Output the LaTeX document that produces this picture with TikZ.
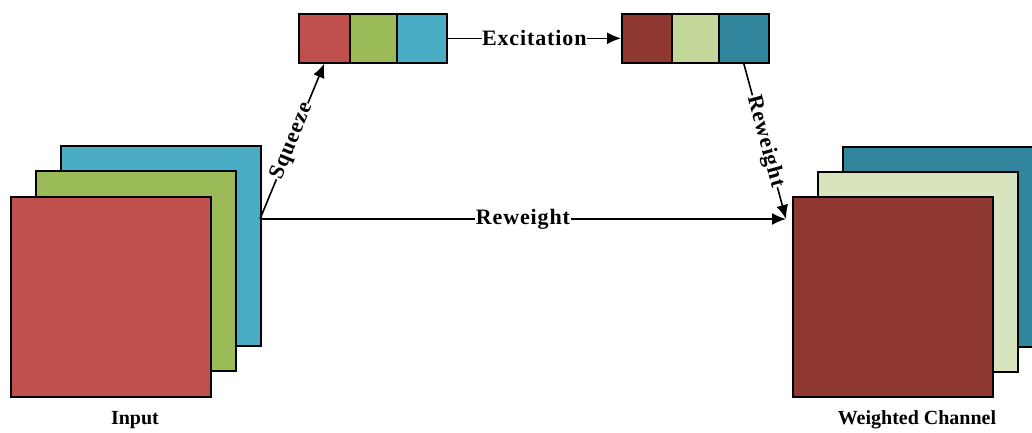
\documentclass[tikz,border=0pt]{standalone}
\usepackage{fontspec}
\setmainfont{Liberation Serif}
\usetikzlibrary{arrows.meta}
\definecolor{cred}{HTML}{C0504D}
\definecolor{cgreen}{HTML}{9BBB59}
\definecolor{cblue}{HTML}{4BACC6}
\definecolor{dred}{HTML}{8F3832}
\definecolor{lgreen}{HTML}{C4D79B}
\definecolor{pgreen}{HTML}{D7E4BD}
\definecolor{dteal}{HTML}{31859C}
\tikzset{
  sq/.style={draw=black, line width=1.6pt, minimum width=200pt, minimum height=200pt, inner sep=0pt, anchor=north west},
  cell/.style={draw=black, line width=1.6pt, minimum height=49pt, inner sep=0pt, anchor=north west},
  conn/.style={line width=1.6pt, -{Latex[length=14pt,width=12pt]}},
  spaced/.style={font=\bfseries\fontsize{22}{24}\selectfont\addfontfeature{LetterSpace=4}, fill=white, inner sep=0.5pt},
  captext/.style={font=\bfseries\fontsize{20}{22}\selectfont}
}
\begin{document}
\begin{tikzpicture}[x=1pt,y=-1pt]
\useasboundingbox (0,0) rectangle (1032,432);
% input stack
\node[sq, fill=cblue] (ib) at (60,145) {};
\node[sq, fill=cgreen] (ig) at (35,170) {};
\node[sq, fill=cred] (ir) at (10,196) {};
% output stack
\node[sq, fill=dteal] (ob) at (842,146) {};
\node[sq, fill=pgreen] (og) at (817,171) {};
\node[sq, fill=dred] (or) at (792,196) {};
% squeezed vector
\node[cell, fill=cred, minimum width=51pt] (c1) at (298,13) {};
\node[cell, fill=cgreen, minimum width=47pt] (c2) at (349,13) {};
\node[cell, fill=cblue, minimum width=50pt] (c3) at (396,13) {};
% excited vector
\node[cell, fill=dred, minimum width=50pt] (d1) at (621,13) {};
\node[cell, fill=lgreen, minimum width=47pt] (d2) at (671,13) {};
\node[cell, fill=dteal, minimum width=50pt] (d3) at (718,13) {};
\coordinate (s) at (260,219);
\coordinate (t) at (786,219);
% connectors
\draw[conn] (s) -- node[spaced, sloped] {Squeeze} (c1.south);
\draw[conn] (s) -- node[spaced, pos=0.5] {Reweight} (t);
\draw[conn] (c3.east) -- node[spaced] {Excitation} (d1.west);
\draw[conn] (d3.south) -- node[spaced, sloped] {Reweight} (t);
% captions
\node[captext] (li) at (135,420) {Input};
\node[captext] (lo) at (917,420) {Weighted Channel};
\end{tikzpicture}
\end{document}
